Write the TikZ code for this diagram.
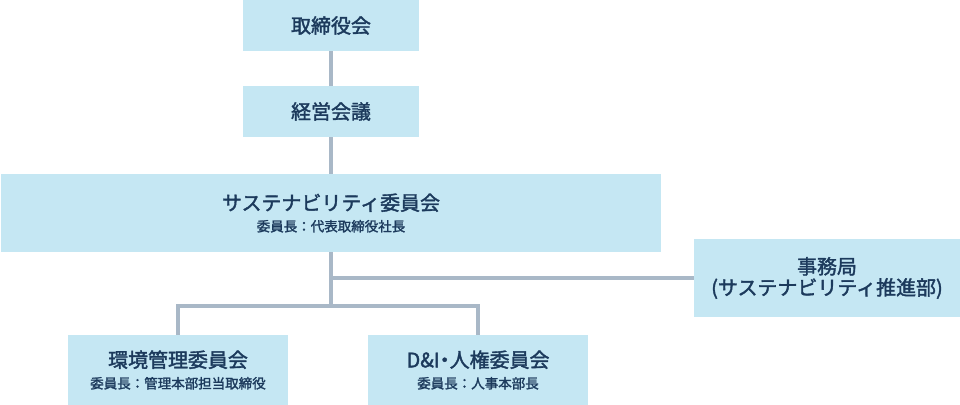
\documentclass[tikz,border=0pt]{standalone}
\usepackage{fontspec}
\setmainfont{Noto Sans CJK JP}[FakeBold=1.8]
\definecolor{boxblue}{HTML}{C5E7F3}
\definecolor{linegray}{HTML}{A9B8C7}
\definecolor{navy}{HTML}{1C3A5C}
\tikzset{
  box/.style={fill=boxblue, text=navy, inner sep=0pt, align=center,
    font=\fontsize{14.2}{17}\selectfont},
  conn/.style={draw=linegray, line width=2.9pt},
}
\newcommand{\chair}[1]{\\[-2pt]{\fontsize{9.6}{11}\selectfont #1}}
\newcommand{\tight}[1]{{\addfontfeature{RawFeature=+palt}#1}}
\begin{document}
\begin{tikzpicture}[x=0.025cm,y=-0.025cm]
\useasboundingbox (0,0) rectangle (960,405);

\node[box, minimum width=4.4cm, minimum height=1.275cm] (board) at (331,25.5) {取締役会};
\node[box, minimum width=4.4cm, minimum height=1.275cm] (mgmt) at (331,111.5) {経営会議};
\node[box, minimum width=16.5cm, minimum height=1.95cm] (sus) at (331,213)
  {サステナビリティ委員会\chair{委員長：代表取締役社長}};
\node[box, minimum width=6.65cm, minimum height=1.95cm] (sec) at (827,278)
  {事務局\\[-2pt](サステナビリティ推進部)};
\node[box, minimum width=5.5cm, minimum height=1.75cm] (env) at (178,370)
  {環境管理委員会\chair{委員長：管理本部担当取締役}};
\node[box, minimum width=5.5cm, minimum height=1.75cm] (dni) at (478,370)
  {D\&I\tight{・}人権委員会\chair{委員長：人事本部長}};

\coordinate (tap) at (331,278);
\coordinate (split) at (331,306);

\draw[conn] (board) -- (mgmt);
\draw[conn] (mgmt) -- (sus);
\draw[conn] (sus) -- (split);
\draw[conn] (tap) -- (sec);
\draw[conn] (env) |- (split) -| (dni);
\end{tikzpicture}
\end{document}
